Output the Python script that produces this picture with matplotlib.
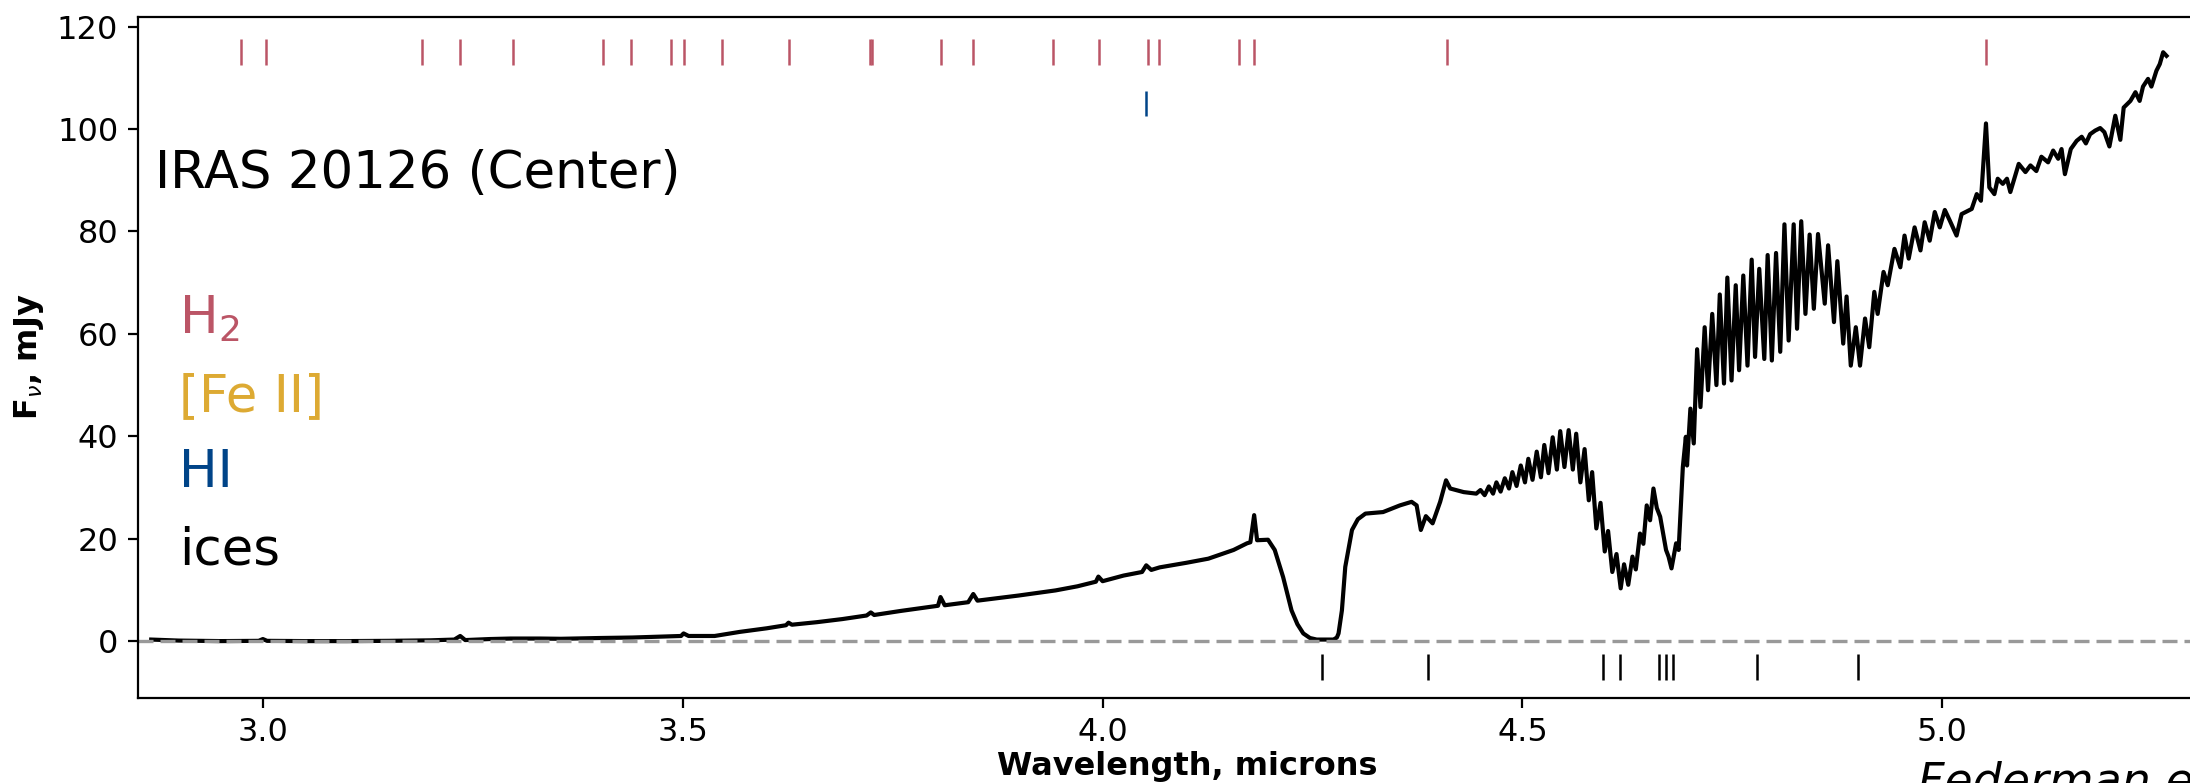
import matplotlib.pyplot as plt

# spectrum: wavelength (microns), flux (mJy)
wave = [2.867, 2.900, 2.950, 2.995, 3.000, 3.005, 3.050, 3.100, 3.150, 3.200,
        3.228, 3.235, 3.241, 3.270, 3.295, 3.330, 3.355, 3.400, 3.440, 3.470,
        3.498, 3.501, 3.507, 3.538, 3.568, 3.600, 3.623, 3.626, 3.630, 3.660,
        3.690, 3.719, 3.724, 3.728, 3.760, 3.804, 3.807, 3.812, 3.840, 3.846,
        3.851, 3.900, 3.944, 3.970, 3.992, 3.995, 4.000, 4.025, 4.047, 4.052,
        4.058, 4.068, 4.100, 4.126, 4.156, 4.172, 4.176, 4.1805, 4.184, 4.197,
        4.205, 4.215, 4.225, 4.232, 4.239, 4.247, 4.255, 4.275, 4.279, 4.281,
        4.285, 4.289, 4.297, 4.304, 4.313, 4.334, 4.354, 4.368, 4.374, 4.379,
        4.385, 4.393, 4.402, 4.409, 4.414, 4.430, 4.445,
        4.450, 4.455, 4.460, 4.465, 4.469, 4.474, 4.479, 4.484, 4.488, 4.493,
        4.498, 4.503, 4.507, 4.512, 4.517, 4.522, 4.526, 4.531, 4.536, 4.541,
        4.545, 4.550, 4.555, 4.560, 4.564, 4.569, 4.574, 4.579, 4.583, 4.588,
        4.593, 4.598, 4.602, 4.607, 4.612, 4.617, 4.621, 4.626, 4.631, 4.635,
        4.640, 4.644, 4.648, 4.652, 4.656, 4.660, 4.664, 4.671, 4.674, 4.6775,
        4.683, 4.686, 4.691, 4.6946, 4.696, 4.700, 4.704, 4.708,
        4.712, 4.717, 4.721, 4.726, 4.731, 4.735, 4.740, 4.744, 4.749, 4.754,
        4.758, 4.763, 4.768, 4.773, 4.777, 4.782, 4.788, 4.792, 4.797, 4.802,
        4.807, 4.812, 4.817, 4.823, 4.827, 4.832, 4.837, 4.842, 4.847, 4.852,
        4.860, 4.864, 4.871, 4.875, 4.882, 4.886, 4.891, 4.897, 4.902, 4.908,
        4.913, 4.919, 4.923, 4.930, 4.935, 4.943, 4.950, 4.955, 4.960, 4.967,
        4.974, 4.979, 4.985, 4.991, 4.997, 5.003, 5.009, 5.017, 5.023, 5.035,
        5.041, 5.046, 5.052, 5.056, 5.062, 5.066, 5.072, 5.077, 5.081, 5.091,
        5.099, 5.105, 5.112, 5.118, 5.126, 5.132, 5.138, 5.142, 5.146, 5.153,
        5.160, 5.166, 5.171, 5.176, 5.182, 5.188, 5.193, 5.199, 5.206, 5.212,
        5.216, 5.224, 5.230, 5.235, 5.239, 5.245, 5.249, 5.255, 5.259, 5.263,
        5.267]
flux = [0.3, 0.1, 0.0, 0.05, 0.4, 0.05, 0.0, 0.0, 0.05, 0.15,
        0.3, 1.0, 0.2, 0.4, 0.5, 0.5, 0.45, 0.6, 0.7, 0.85,
        1.0, 1.5, 1.0, 1.0, 1.8, 2.5, 3.1, 3.6, 3.2, 3.7,
        4.3, 5.0, 5.6, 5.1, 5.9, 6.9, 8.6, 7.0, 7.6, 9.2,
        7.9, 8.9, 9.9, 10.7, 11.6, 12.6, 11.7, 12.8, 13.5, 14.8,
        13.9, 14.4, 15.3, 16.1, 17.8, 19.1, 19.3, 24.6, 19.7, 19.8,
        17.8, 12.5, 6.0, 3.3, 1.5, 0.6, 0.3, 0.3, 0.7, 1.5,
        6.0, 14.5, 21.7, 23.8, 24.9, 25.2, 26.5, 27.2, 26.5, 21.7,
        24.4, 23.0, 27.2, 31.4, 29.8, 29.1, 28.8,
        29.5, 28.5, 30.2, 28.8, 31.0, 29.2, 31.8, 29.8, 33.0, 30.3,
        34.3, 31.0, 35.6, 31.5, 37.0, 32.0, 38.3, 32.8, 39.8, 33.5,
        41.0, 34.0, 41.2, 33.5, 40.5, 31.0, 37.5, 27.5, 33.0, 22.0,
        27.0, 17.5, 21.5, 13.5, 17.0, 10.3, 15.0, 11.0, 16.5, 14.0,
        21.0, 19.0, 26.5, 23.6, 29.8, 26.0, 24.3, 17.8, 16.5, 14.2,
        19.1, 17.8, 34.0, 39.9, 34.3, 45.4, 38.6, 57.0,
        45.7, 61.3, 49.0, 63.9, 50.0, 67.7, 50.3, 71.0, 50.9, 69.5,
        52.9, 71.4, 53.8, 74.5, 55.5, 72.7, 55.1, 75.4, 54.8, 75.8,
        56.5, 81.4, 58.7, 81.4, 61.0, 82.0, 63.9, 79.4, 64.9, 79.5,
        65.9, 77.3, 62.3, 74.2, 58.1, 67.3, 53.8, 61.3, 53.8, 63.0,
        57.4, 68.2, 63.9, 72.1, 69.5, 76.6, 73.0, 79.2, 74.7, 80.8,
        76.3, 81.8, 78.2, 83.8, 80.8, 84.2, 82.1, 79.2, 83.4, 84.4,
        87.3, 86.0, 101.1, 88.6, 87.3, 90.3, 89.3, 90.3, 87.7, 93.2,
        91.6, 92.9, 91.8, 94.6, 93.5, 95.8, 94.2, 96.1, 91.2, 96.1,
        97.7, 98.5, 97.2, 99.0, 99.7, 100.2, 99.4, 96.6, 102.6, 97.9,
        104.2, 105.5, 107.2, 105.5, 108.3, 109.8, 108.3, 111.4, 112.7, 115.0,
        114.3]

# line markers
h2_lines = [2.974, 3.004, 3.190, 3.235, 3.298, 3.405, 3.438, 3.486, 3.501,
            3.547, 3.626, 3.723, 3.725, 3.807, 3.846, 3.941, 3.996, 4.054,
            4.067, 4.162, 4.180, 4.410, 5.052]
hi_lines = [4.052]
ice_bands = [4.261, 4.387, 4.596, 4.616, 4.663, 4.671, 4.679, 4.779, 4.900]

fig = plt.figure(figsize=(10.95, 3.915), dpi=200)
ax = fig.add_axes([0.0629, 0.1089, 0.9582, 0.8698])

ax.plot(wave, flux, color='k', lw=1.5)
ax.axhline(0, color='#999999', ls=(0, (4.5, 2.1)), lw=1.2)
ax.vlines(h2_lines, 112.5, 117.5, color='#BB5566', lw=0.9)
ax.vlines(hi_lines, 102.5, 107.5, color='#004488', lw=0.9)
ax.vlines(ice_bands, -2.5, -7.5, color='k', lw=0.9)

ax.text(2.872, 88.5, 'IRAS 20126 (Center)', fontsize=18.5)
ax.text(2.9, 60, 'H$_2$', fontsize=18.5, color='#BB5566')
ax.text(2.9, 45, '[Fe II]', fontsize=18.5, color='#DDAA33')
ax.text(2.9, 30, 'HI', fontsize=18.5, color='#004488')
ax.text(2.9, 15, 'ices', fontsize=18.5, color='k')

ax.set_xlim(2.851, 5.35)
ax.set_ylim(-11.06, 121.95)
ax.set_xticks([3.0, 3.5, 4.0, 4.5, 5.0])
ax.set_yticks([0, 20, 40, 60, 80, 100, 120])
ax.tick_params(labelsize=11.5)
ax.set_xlabel('Wavelength, microns', fontsize=11.5, fontweight='bold', labelpad=1)
ax.set_ylabel(r'F$_\nu$, mJy', fontsize=11.5, fontweight='bold')

fig.text(0.8758, -0.016, 'Federman et al. 2024', fontsize=16.5, style='italic')

fig.savefig('out.png', dpi=200)
